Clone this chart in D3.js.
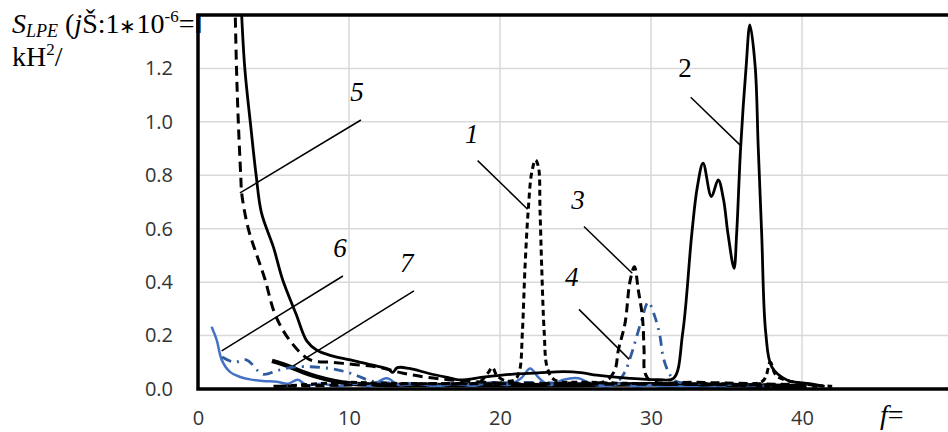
<!DOCTYPE html>
<html>
<head>
<meta charset="utf-8">
<script src="https://cdn.jsdelivr.net/npm/d3@7"></script>
<style>
  body { margin: 0; background: #fff; }
  svg { display: block; }
</style>
</head>
<body>
<script>
// spectral curves, [f, S] pairs
const s1 = [[5.5,0.01],[8,0.02],[10,0.025],[12,0.022],[15,0.02],[17,0.02],[18.6,0.025],[19.2,0.06],[19.5,0.08],[19.8,0.05],[20.4,0.03],[21.0,0.035],[21.3,0.07],[21.48,0.21],[21.66,0.46],[21.87,0.67],[22.1,0.81],[22.35,0.857],[22.55,0.83],[22.65,0.67],[22.76,0.46],[22.93,0.21],[23.13,0.08],[23.6,0.035],[26,0.025],[30,0.02],[34,0.02],[37.4,0.03],[37.9,0.1],[38.3,0.05],[40,0.02],[42,0.01]];
const s2 = [[2.85,1.45],[3.1,1.2],[3.5,0.98],[3.85,0.8],[4.2,0.66],[5.0,0.53],[5.6,0.41],[6.5,0.28],[7.2,0.18],[7.85,0.146],[8.8,0.125],[10.1,0.109],[11.5,0.09],[12.6,0.075],[12.9,0.062],[13.2,0.08],[14.0,0.077],[15.3,0.058],[16.7,0.041],[17.3,0.034],[19,0.045],[20.9,0.056],[22.5,0.06],[24.2,0.065],[25.5,0.06],[26.4,0.052],[28.6,0.04],[30.5,0.035],[31.5,0.04],[32.1,0.21],[32.7,0.58],[33.07,0.757],[33.45,0.845],[34.0,0.72],[34.45,0.783],[34.8,0.71],[35.1,0.58],[35.5,0.452],[35.67,0.58],[35.94,0.907],[36.3,1.207],[36.55,1.363],[36.9,1.207],[37.1,0.907],[37.33,0.58],[37.6,0.21],[38.0,0.083],[39.0,0.034],[40.5,0.02],[41.5,0.01]];
const s3 = [[5,0.01],[10,0.015],[15,0.02],[20,0.02],[25,0.022],[27,0.03],[27.6,0.07],[27.84,0.146],[28.28,0.246],[28.6,0.4],[28.9,0.458],[29.16,0.37],[29.43,0.27],[29.54,0.146],[29.6,0.06],[30,0.03],[33,0.025],[37,0.02],[40,0.015]];
const s4 = [[1.6,0.12],[2.4,0.1],[3.2,0.109],[4.3,0.055],[5.3,0.07],[6.5,0.083],[8.7,0.077],[10.1,0.059],[11.5,0.03],[14,0.02],[18,0.02],[22,0.025],[26,0.02],[27.8,0.03],[28.28,0.065],[28.72,0.134],[29.05,0.196],[29.38,0.258],[29.82,0.325],[30.26,0.27],[30.6,0.196],[30.8,0.121],[31.15,0.065],[31.6,0.03],[34,0.02],[38,0.01]];
const s5 = [[2.45,1.45],[2.55,1.2],[2.67,1.0],[2.83,0.8],[2.9,0.73],[3.33,0.6],[3.9,0.5],[4.44,0.41],[5.1,0.28],[6.1,0.18],[7.4,0.11],[8.9,0.10],[10.3,0.092],[11.8,0.083],[13.6,0.059],[15,0.045],[16.7,0.034],[19,0.025],[22,0.02],[26,0.018],[30,0.018],[34,0.016],[38,0.015],[41,0.01]];
const s6 = [[0.9,0.233],[1.24,0.183],[1.57,0.109],[2.1,0.065],[2.8,0.045],[3.44,0.036],[4.3,0.03],[5.2,0.027],[6.0,0.02],[6.6,0.035],[7.2,0.015],[8.2,0.02],[9.3,0.01],[10.5,0.02],[11.3,0.01],[12.5,0.04],[13.3,0.015],[14.5,0.02],[15.8,0.01],[17,0.02],[18.2,0.012],[19.5,0.025],[20.5,0.015],[21.4,0.04],[22.0,0.077],[22.6,0.04],[23.3,0.015],[24.2,0.035],[25.2,0.04],[26,0.02],[27,0.01],[28,0.02],[29,0.01],[30,0.015],[31,0.005],[32,0.01],[33.5,0.005],[35,0.01]];
const s7 = [[4.9,0.105],[6.0,0.085],[7.0,0.062],[7.85,0.046],[9.0,0.03],[10.1,0.021],[12,0.016],[15,0.015],[20,0.014],[25,0.015],[30,0.018],[35,0.015],[38,0.012],[40.3,0.01]];

const xTicks = [0, 10, 20, 30, 40];
const yTicks = [0, 0.2, 0.4, 0.6, 0.8, 1.0, 1.2];

// curve numbers: text anchor and leader line, in data units
const labelNames = ["1", "2", "3", "4", "5", "6", "7"];
const labelAt   = [[18.13,0.958],[32.25,1.202],[25.17,0.708],[24.75,0.420],[10.53,1.112],[9.40,0.528],[13.82,0.472]];
const leaderFrom = [[18.52,0.855],[32.63,1.092],[25.56,0.608],[25.23,0.298],[10.79,1.007],[9.60,0.423],[14.30,0.367]];
const leaderTo   = [[21.83,0.673],[35.94,0.911],[28.76,0.433],[28.56,0.111],[2.78,0.734],[1.57,0.143],[6.29,0.086]];

const W = 948, H = 432;
const padL = 198, padT = 15, axisY = 389;

const svg = d3.select("body").append("svg")
  .attr("width", W)
  .attr("height", H);

const x = d3.scaleLinear().domain([0, 50]).range([padL, padL + 755]);
const y = d3.scaleLinear().domain([0, 1.4]).range([axisY, padT]);

svg.append("defs").append("clipPath").attr("id", "plot")
  .append("rect")
    .attr("x", padL).attr("y", padT)
    .attr("width", W - padL).attr("height", axisY - padT);

// grid
svg.append("g")
  .selectAll("line")
  .data(xTicks.slice(1))
  .join("line")
    .attr("x1", d => x(d)).attr("x2", d => x(d))
    .attr("y1", padT).attr("y2", axisY)
    .attr("stroke", "#d9d9d9").attr("stroke-width", 1.5);
svg.append("g")
  .selectAll("line")
  .data(yTicks.slice(1))
  .join("line")
    .attr("x1", padL).attr("x2", W)
    .attr("y1", d => y(d)).attr("y2", d => y(d))
    .attr("stroke", "#d9d9d9").attr("stroke-width", 1.5);

// axes labels
const yAxis = svg.append("g")
  .attr("transform", "translate(" + padL + ",0)")
  .call(d3.axisLeft(y).tickValues(yTicks).tickFormat(d3.format(".1f")).tickSize(0).tickPadding(25));
const xAxis = svg.append("g")
  .attr("transform", "translate(0," + axisY + ")")
  .call(d3.axisBottom(x).tickValues(xTicks).tickSize(0).tickPadding(22));
[yAxis, xAxis].forEach(a => {
  a.select(".domain").remove();
  a.selectAll("text")
    .attr("font-family", "'Open Sans', sans-serif")
    .attr("font-size", 20)
    .attr("fill", "#333");
});

// curves
const line = d3.line()
  .x(d => x(d[0]))
  .y(d => y(d[1]))
  .curve(d3.curveCatmullRom.alpha(0.5));

const curves = svg.append("g").attr("clip-path", "url(#plot)").attr("fill", "none");
const series = [
  { data: s7, color: "#000", w: 4.5, dash: null },
  { data: s6, color: "#4472C4", w: 2.5, dash: null },
  { data: s4, color: "#2E5C9E", w: 2.8, dash: "10,6,2,6" },
  { data: s1, color: "#000", w: 3, dash: "6,4" },
  { data: s3, color: "#000", w: 3, dash: "9,5" },
  { data: s5, color: "#000", w: 3, dash: "10,6" },
  { data: s2, color: "#000", w: 2.8, dash: null }
];
series.forEach(s => {
  curves.append("path")
    .attr("d", line(s.data))
    .attr("stroke", s.color)
    .attr("stroke-width", s.w)
    .attr("stroke-dasharray", s.dash)
    .attr("stroke-linejoin", "round");
});

// frame
svg.append("path")
  .attr("d", "M" + W + "," + padT + "H" + padL + "V" + axisY + "H" + W)
  .attr("fill", "none")
  .attr("stroke", "#000")
  .attr("stroke-width", 3.5);

// curve numbers
const notes = svg.append("g");
labelNames.forEach((name, i) => {
  notes.append("line")
    .attr("x1", x(leaderFrom[i][0])).attr("y1", y(leaderFrom[i][1]))
    .attr("x2", x(leaderTo[i][0])).attr("y2", y(leaderTo[i][1]))
    .attr("stroke", "#000").attr("stroke-width", 1.5);
  notes.append("text")
    .attr("x", x(labelAt[i][0])).attr("y", y(labelAt[i][1]))
    .attr("dy", "0.35em")
    .attr("text-anchor", "middle")
    .attr("font-family", "'Liberation Serif', serif")
    .attr("font-style", name === "2" ? "normal" : "italic")
    .attr("font-size", 27)
    .text(name);
});

// y title
const t1 = svg.append("text")
  .attr("x", 12).attr("y", 33)
  .attr("font-family", "'Liberation Serif', serif")
  .attr("font-size", 28);
t1.append("tspan").attr("font-style", "italic").text("S");
t1.append("tspan").attr("font-style", "italic").attr("font-size", 18).attr("dy", 4).text("LPE");
t1.append("tspan").attr("dy", -4).text(" (");
t1.append("tspan").attr("font-style", "italic").text("j");
t1.append("tspan").text("Š:1");
t1.append("tspan").attr("font-size", 20).text("∗");
t1.append("tspan").text("10");
t1.append("tspan").attr("font-size", 17).attr("dy", -11).text("-6");
t1.append("tspan").attr("dy", 11).text("=‖");

const t2 = svg.append("text")
  .attr("x", 12).attr("y", 66)
  .attr("font-family", "'Liberation Serif', serif")
  .attr("font-size", 28);
t2.append("tspan").text("kH");
t2.append("tspan").attr("font-size", 17).attr("dy", -11).text("2");
t2.append("tspan").attr("dy", 11).text("/");

// x title
const t3 = svg.append("text")
  .attr("x", 880).attr("y", 424)
  .attr("font-family", "'Liberation Serif', serif")
  .attr("font-size", 28);
t3.append("tspan").attr("font-style", "italic").text("f");
t3.append("tspan").text("=");
</script>
</body>
</html>
